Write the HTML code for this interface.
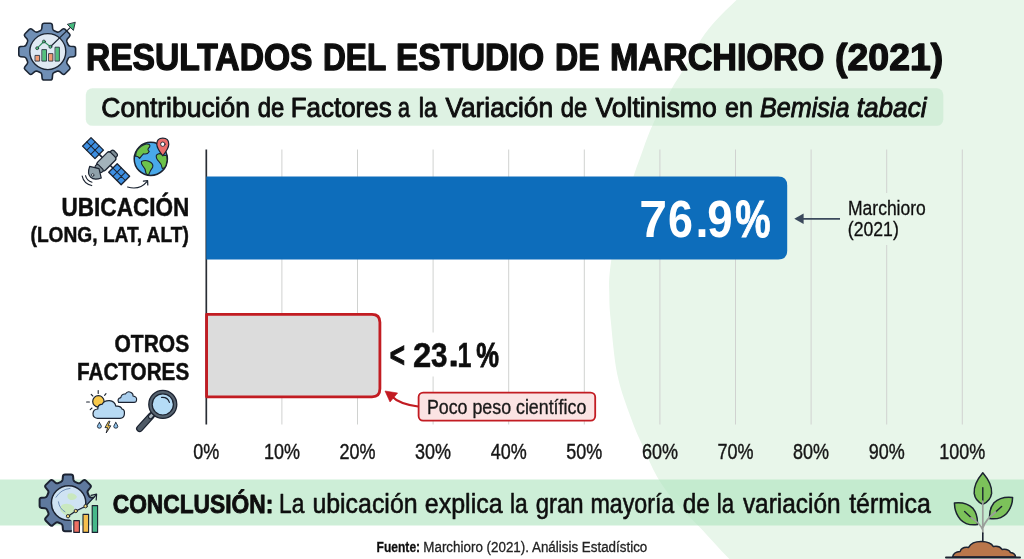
<!DOCTYPE html>
<html lang="es">
<head>
<meta charset="utf-8">
<title>Resultados del estudio de Marchioro (2021)</title>
<style>
html,body{margin:0;padding:0;background:#fff;}
body{width:1024px;height:559px;overflow:hidden;font-family:"Liberation Sans",sans-serif;}
svg{display:block;}
text{font-family:"Liberation Sans",sans-serif;}
.b{font-weight:700;}
.i{font-style:italic;}
</style>
</head>
<body>
<svg width="1024" height="559" viewBox="0 0 1024 559">
<defs>
<filter id="soft" x="0" y="0" width="100%" height="100%" filterUnits="objectBoundingBox"><feGaussianBlur stdDeviation="0.4"/></filter>
<clipPath id="g2clip"><path clip-rule="evenodd" d="M20 460 H130 V559 H20 Z M67.6 517.8 L75.8 512 L85.6 507.2 L96.8 494.8 L116 494 L116 545 L71.8 545 L71.8 521 Z"/></clipPath>
</defs>
<g id="all" filter="url(#soft)">
<!-- BACKGROUND -->
<rect x="0" y="0" width="1024" height="559" fill="#ffffff"/>
<path d="M736.5 0.0 C729.0 7.2 721.2 14.5 715.0 21.5 C708.8 28.5 704.9 33.5 699.4 42.0 C693.9 50.5 686.5 64.3 681.8 72.3 C677.1 80.3 675.9 81.2 671.0 90.0 C666.1 98.8 657.8 113.7 652.6 125.0 C647.4 136.3 643.1 149.7 640.0 158.0 C636.9 166.3 637.7 164.3 634.0 175.0 C630.3 185.7 622.0 206.2 618.0 222.0 C614.0 237.8 611.5 257.8 610.0 270.0 C608.5 282.2 609.2 286.7 609.3 295.0 C609.4 303.3 609.4 306.7 610.7 320.0 C612.1 333.3 614.0 358.7 617.4 375.0 C620.8 391.3 626.9 406.3 631.0 418.0 C635.1 429.7 637.9 435.2 642.3 445.0 C646.7 454.8 651.6 467.3 657.2 477.0 C662.8 486.7 669.0 494.7 676.0 503.0 C683.0 511.3 690.6 517.7 699.5 527.0 C708.4 536.3 719.0 548.5 729.4 559.0 L1024 559 L1024 0 Z" fill="#e8f6ea"/>

<!-- SUBTITLE PILL -->
<rect x="85.8" y="88.3" width="857.5" height="37.5" rx="6.5" fill="#bfe7c9" fill-opacity="0.52"/>

<!-- CONCLUSION BAND -->
<rect x="0" y="479.5" width="1024" height="46" fill="#afe3be" fill-opacity="0.62"/>

<!-- GRID -->
<g id="grid" stroke="#d0d2d0" stroke-width="1">
<line x1="281.9" y1="149.5" x2="281.9" y2="424.5"/>
<line x1="357.5" y1="149.5" x2="357.5" y2="424.5"/>
<line x1="433.1" y1="149.5" x2="433.1" y2="424.5"/>
<line x1="508.7" y1="149.5" x2="508.7" y2="424.5"/>
<line x1="584.3" y1="149.5" x2="584.3" y2="424.5"/>
<line x1="659.9" y1="149.5" x2="659.9" y2="424.5"/>
<line x1="735.5" y1="149.5" x2="735.5" y2="424.5"/>
<line x1="811.1" y1="149.5" x2="811.1" y2="424.5"/>
<line x1="886.7" y1="149.5" x2="886.7" y2="424.5"/>
<line x1="962.3" y1="149.5" x2="962.3" y2="424.5"/>
</g>
<line x1="206.3" y1="149.5" x2="206.3" y2="424.5" stroke="#2b2f36" stroke-width="1.7"/>

<!-- BARS -->
<path d="M206.3 176.6 H778.2 Q787.2 176.6 787.2 185.6 V250.5 Q787.2 259.5 778.2 259.5 H206.3 Z" fill="#0e6dbb"/>
<path d="M206.6 314.3 H372 Q379.9 314.3 379.9 322.3 V388.8 Q379.9 396.8 372 396.8 H206.6 Z" fill="#dcdcdc" stroke="#c21a22" stroke-width="2.8" stroke-linejoin="round"/>

<!-- TEXT -->
<g id="txt" fill="#111111">
<g id="w-title" class="b" font-size="37.8" stroke="#111" stroke-width="1.4" stroke-linejoin="round">
<text id="t0" x="85.9" y="69.9" textLength="226.6" lengthAdjust="spacingAndGlyphs">RESULTADOS</text>
<text id="t1" x="323.0" y="69.9" textLength="63.2" lengthAdjust="spacingAndGlyphs">DEL</text>
<text id="t2" x="396.1" y="69.9" textLength="148.1" lengthAdjust="spacingAndGlyphs">ESTUDIO</text>
<text id="t3" x="555.1" y="69.9" textLength="44.5" lengthAdjust="spacingAndGlyphs">DE</text>
<text id="t4" x="609.9" y="69.9" textLength="214.4" lengthAdjust="spacingAndGlyphs">MARCHIORO</text>
<text id="t5" x="835.1" y="69.9" textLength="108.1" lengthAdjust="spacingAndGlyphs">(2021)</text>
</g>
<g id="w-sub" font-size="27.4" stroke="#111" stroke-width="0.95" stroke-linejoin="round">
<text id="s0" x="101.3" y="116.8" textLength="148.7" lengthAdjust="spacingAndGlyphs">Contribución</text>
<text id="s1" x="257.7" y="116.8" textLength="26.5" lengthAdjust="spacingAndGlyphs">de</text>
<text id="s2" x="290.8" y="116.8" textLength="100.8" lengthAdjust="spacingAndGlyphs">Factores</text>
<text id="s3" x="398.1" y="116.8" textLength="11.9" lengthAdjust="spacingAndGlyphs">a</text>
<text id="s4" x="418.8" y="116.8" textLength="18.2" lengthAdjust="spacingAndGlyphs">la</text>
<text id="s5" x="445.4" y="116.8" textLength="107.7" lengthAdjust="spacingAndGlyphs">Variación</text>
<text id="s6" x="560.7" y="116.8" textLength="26.4" lengthAdjust="spacingAndGlyphs">de</text>
<text id="s7" x="595.4" y="116.8" textLength="121.4" lengthAdjust="spacingAndGlyphs">Voltinismo</text>
<text id="s8" x="725.0" y="116.8" textLength="27.8" lengthAdjust="spacingAndGlyphs">en</text>
<text id="s9" class="i" x="760.0" y="116.8" textLength="89.4" lengthAdjust="spacingAndGlyphs">Bemisia</text>
<text id="s10" class="i" x="856.8" y="116.8" textLength="69.7" lengthAdjust="spacingAndGlyphs">tabaci</text>
</g>

<text class="b" x="61.5" y="215.7" font-size="26.3" textLength="127.9" stroke="#111" stroke-width="0.5" lengthAdjust="spacingAndGlyphs">UBICACIÓN</text>
<text class="b" x="30.5" y="242.4" font-size="22.2" textLength="158.3" stroke="#111" stroke-width="0.5" lengthAdjust="spacingAndGlyphs">(LONG, LAT, ALT)</text>
<text class="b" x="114.5" y="352" font-size="24" textLength="74.7" stroke="#111" stroke-width="0.5" lengthAdjust="spacingAndGlyphs">OTROS</text>
<text class="b" x="77" y="380.1" font-size="24" textLength="112.2" stroke="#111" stroke-width="0.5" lengthAdjust="spacingAndGlyphs">FACTORES</text>

<g class="b" font-size="52" fill="#ffffff" font-weight="700" lengthAdjust="spacingAndGlyphs">
<text x="639.2" y="236.5" textLength="27.8" lengthAdjust="spacingAndGlyphs">7</text>
<text x="667.9" y="236.5" textLength="24.9" lengthAdjust="spacingAndGlyphs">6</text>
<text x="695.4" y="236.5" textLength="13" lengthAdjust="spacingAndGlyphs">.</text>
<text x="707.2" y="236.5" textLength="25.4" lengthAdjust="spacingAndGlyphs">9</text>
</g>
<text class="b" x="735.3" y="236.5" font-size="52" textLength="35.4" lengthAdjust="spacingAndGlyphs" fill="#ffffff" stroke="#ffffff" stroke-width="0.9">%</text>
<rect x="382.6" y="332.5" width="123" height="44" fill="#ffffff"/>
<g id="w-p" class="b" font-size="34.6" stroke="#111" stroke-width="0.5">
<text id="p0" stroke-width="1.0" x="389.7" y="366.5" textLength="15.2" lengthAdjust="spacingAndGlyphs">&lt;</text>
<text id="p1" x="413.1" y="366.5" textLength="18.3" lengthAdjust="spacingAndGlyphs">2</text>
<text id="p2" x="430.9" y="366.5" textLength="16.5" lengthAdjust="spacingAndGlyphs">3</text>
<rect x="450.6" y="360.4" width="6.1" height="6.1" rx="0.6" stroke="none" fill="#111"/>
<text id="p4" x="457.4" y="366.5" textLength="14.0" lengthAdjust="spacingAndGlyphs">1</text>
<text id="p5" stroke-width="0.9" x="476.3" y="366.5" textLength="22.7" lengthAdjust="spacingAndGlyphs">%</text>
</g>

<rect x="843" y="193" width="90" height="52" fill="#e8f6ea"/>
<text x="848" y="214.8" font-size="19.3" textLength="77.8" stroke="#111" stroke-width="0.3" lengthAdjust="spacingAndGlyphs">Marchioro</text>
<text x="847.8" y="235.9" font-size="19.3" textLength="51" stroke="#111" stroke-width="0.3" lengthAdjust="spacingAndGlyphs">(2021)</text>
</g>

<!-- MARCHIORO ARROW -->
<g fill="#3b4a5c" stroke="#3b4a5c">
<line x1="800" y1="218.8" x2="840" y2="218.8" stroke-width="1.8"/>
<path d="M794.3 218.8 L803.6 213.6 L803.6 224 Z" stroke="none"/>
</g>

<!-- CALLOUT -->
<rect x="418.6" y="392.6" width="176.6" height="28" rx="4.5" fill="#fbe3e3" stroke="#c21a22" stroke-width="1.8"/>
<text x="426.9" y="413.8" font-size="20" textLength="159.4" stroke="#1a1a1a" stroke-width="0.35" lengthAdjust="spacingAndGlyphs" fill="#1a1a1a">Poco peso científico</text>
<path d="M418.1 406.5 Q399 404 391.5 396" fill="none" stroke="#c21a22" stroke-width="2.2"/>
<path d="M385 391 L397.6 393 L390 402 Z" fill="#c21a22" stroke="#c21a22" stroke-width="0.6" stroke-linejoin="round"/>

<!-- AXIS LABELS -->
<g id="ax" fill="#151515" font-size="21.8" text-anchor="middle" stroke="#151515" stroke-width="0.4">
<text x="206.3" y="458.8" textLength="26" lengthAdjust="spacingAndGlyphs">0%</text>
<text x="281.9" y="458.8" textLength="36" lengthAdjust="spacingAndGlyphs">10%</text>
<text x="357.5" y="458.8" textLength="36" lengthAdjust="spacingAndGlyphs">20%</text>
<text x="433.1" y="458.8" textLength="36" lengthAdjust="spacingAndGlyphs">30%</text>
<text x="508.7" y="458.8" textLength="36" lengthAdjust="spacingAndGlyphs">40%</text>
<text x="584.3" y="458.8" textLength="36" lengthAdjust="spacingAndGlyphs">50%</text>
<text x="659.9" y="458.8" textLength="36" lengthAdjust="spacingAndGlyphs">60%</text>
<text x="735.5" y="458.8" textLength="36" lengthAdjust="spacingAndGlyphs">70%</text>
<text x="811.1" y="458.8" textLength="36" lengthAdjust="spacingAndGlyphs">80%</text>
<text x="886.7" y="458.8" textLength="36" lengthAdjust="spacingAndGlyphs">90%</text>
<text x="962.3" y="458.8" textLength="46" lengthAdjust="spacingAndGlyphs">100%</text>
</g>

<!-- CONCLUSION TEXT -->
<g id="w-con" font-size="27.2" fill="#111" stroke="#111" stroke-width="0.6" stroke-linejoin="round">
<text id="c0" class="b" font-size="26.2" stroke-width="0.9" x="112.7" y="513.4" textLength="160.6" lengthAdjust="spacingAndGlyphs">CONCLUSIÓN:</text>
<text id="c1" x="279.1" y="513.4" textLength="25.3" lengthAdjust="spacingAndGlyphs">La</text>
<text id="c2" x="312.4" y="513.4" textLength="105.2" lengthAdjust="spacingAndGlyphs">ubicación</text>
<text id="c3" x="424.8" y="513.4" textLength="77.8" lengthAdjust="spacingAndGlyphs">explica</text>
<text id="c4" x="509.9" y="513.4" textLength="17.7" lengthAdjust="spacingAndGlyphs">la</text>
<text id="c5" x="535.7" y="513.4" textLength="47.9" lengthAdjust="spacingAndGlyphs">gran</text>
<text id="c6" x="590.4" y="513.4" textLength="83.9" lengthAdjust="spacingAndGlyphs">mayoría</text>
<text id="c7" x="682.8" y="513.4" textLength="27.1" lengthAdjust="spacingAndGlyphs">de</text>
<text id="c8" x="716.7" y="513.4" textLength="17.3" lengthAdjust="spacingAndGlyphs">la</text>
<text id="c9" x="742.9" y="513.4" textLength="97.7" lengthAdjust="spacingAndGlyphs">variación</text>
<text id="c10" x="849.2" y="513.4" textLength="81.6" lengthAdjust="spacingAndGlyphs">térmica</text>
</g>

<!-- FOOTER -->
<text class="b" x="376.6" y="551.7" font-size="15.5" textLength="43.5" stroke="#111" stroke-width="0.3" lengthAdjust="spacingAndGlyphs" fill="#111">Fuente:</text>
<text x="423.3" y="551.7" font-size="15.5" textLength="224" stroke="#222" stroke-width="0.3" lengthAdjust="spacingAndGlyphs" fill="#222">Marchioro (2021). Análisis Estadístico</text>

<!-- ICONS -->
<g id="ico-gear1" transform="translate(47.2,51.6)" stroke-linejoin="round" stroke-linecap="round">
<path d="M20.9 -7.0 Q21.5 -5.6 23.1 -5.4 L26.5 -5.1 Q28.4 -4.9 28.4 -3.0 L28.4 3.0 Q28.4 4.9 26.5 5.1 L23.1 5.4 Q21.5 5.6 20.9 7.0 L19.7 9.8 Q19.1 11.3 20.1 12.5 L22.3 15.1 Q23.5 16.6 22.2 17.9 L17.9 22.2 Q16.6 23.5 15.1 22.3 L12.5 20.1 Q11.3 19.1 9.8 19.7 L7.0 20.9 Q5.6 21.5 5.4 23.1 L5.1 26.5 Q4.9 28.4 3.0 28.4 L-3.0 28.4 Q-4.9 28.4 -5.1 26.5 L-5.4 23.1 Q-5.6 21.5 -7.0 20.9 L-9.8 19.7 Q-11.3 19.1 -12.5 20.1 L-15.1 22.3 Q-16.6 23.5 -17.9 22.2 L-22.2 17.9 Q-23.5 16.6 -22.3 15.1 L-20.1 12.5 Q-19.1 11.3 -19.7 9.8 L-20.9 7.0 Q-21.5 5.6 -23.1 5.4 L-26.5 5.1 Q-28.4 4.9 -28.4 3.0 L-28.4 -3.0 Q-28.4 -4.9 -26.5 -5.1 L-23.1 -5.4 Q-21.5 -5.6 -20.9 -7.0 L-19.7 -9.8 Q-19.1 -11.3 -20.1 -12.5 L-22.3 -15.1 Q-23.5 -16.6 -22.2 -17.9 L-17.9 -22.2 Q-16.6 -23.5 -15.1 -22.3 L-12.5 -20.1 Q-11.3 -19.1 -9.8 -19.7 L-7.0 -20.9 Q-5.6 -21.5 -5.4 -23.1 L-5.1 -26.5 Q-4.9 -28.4 -3.0 -28.4 L3.0 -28.4 Q4.9 -28.4 5.1 -26.5 L5.4 -23.1 Q5.6 -21.5 7.0 -20.9 L9.8 -19.7 Q11.3 -19.1 12.5 -20.1 L15.1 -22.3 Q16.6 -23.5 17.9 -22.2 L22.2 -17.9 Q23.5 -16.6 22.3 -15.1 L20.1 -12.5 Q19.1 -11.3 19.7 -9.8 Z" fill="#6f8fb5" stroke="#1d2634" stroke-width="1.6"/>
<circle cx="0.6" cy="0" r="18" fill="#dfe9f3" stroke="#1d2634" stroke-width="1.4"/>
<g stroke="#1d2634" stroke-width="0.8">
<rect x="-11.8" y="3.8" width="4.2" height="5.7" fill="#f09a72"/>
<rect x="-5" y="-2" width="4.3" height="11.5" fill="#52c07e"/>
<rect x="1.7" y="2" width="4" height="7.5" fill="#f09a72"/>
<rect x="8.2" y="-4.4" width="4" height="13.9" fill="#52c07e"/>
</g>
<path d="M-10 -3.4 L-3.3 -10.1 L3.2 -4.8" fill="none" stroke="#2e8f5e" stroke-width="1.1"/>
<path d="M3.2 -4.8 L24 -25" fill="none" stroke="#1d2634" stroke-width="1.2"/>
<circle cx="-10" cy="-3.4" r="1.5" fill="#52c07e" stroke="#1d2634" stroke-width="0.7"/>
<circle cx="-3.3" cy="-10.1" r="1.5" fill="#52c07e" stroke="#1d2634" stroke-width="0.7"/>
<circle cx="3.2" cy="-4.8" r="1.5" fill="#52c07e" stroke="#1d2634" stroke-width="0.7"/>
<path d="M28 -29 L26.2 -21.2 L20.4 -27 Z" fill="#45b97c" stroke="#1d2634" stroke-width="0.9"/>
</g>
<g id="ico-sat" stroke="#1b2330" stroke-linejoin="round" stroke-linecap="round">
<g transform="translate(106.3,161.4) rotate(45)">
<line x1="-10" y1="0" x2="10" y2="0" stroke-width="1.6"/>
<rect x="-27.6" y="-6" width="17.6" height="12" fill="#3d8fe2" stroke-width="1.3"/>
<path d="M-21.7 -6 V6 M-15.9 -6 V6 M-27.6 0 H-10" fill="none" stroke-width="1"/>
<rect x="9.4" y="-6" width="17.6" height="12" fill="#3d8fe2" stroke-width="1.3"/>
<path d="M15.3 -6 V6 M21.1 -6 V6 M9.4 0 H27" fill="none" stroke-width="1"/>
<rect x="-4" y="-13" width="8" height="6" rx="2" fill="#7d8d96" stroke-width="1.2"/>
<rect x="-5.6" y="-9.4" width="11.2" height="18.6" rx="2.6" fill="#a3b3bb" stroke-width="1.3"/>
<rect x="-4.6" y="8" width="9.2" height="4.2" rx="1.6" fill="#7d8d96" stroke-width="1.1"/>
<g transform="translate(0,-2.2)"><path d="M0 12.5 L-8.2 17.5 Q-5 24.5 0 24.5 Q5 24.5 8.2 17.5 Z" fill="#8fa1aa" stroke-width="1.2"/>
<circle cx="0" cy="21.4" r="1.3" fill="#e9eef1" stroke-width="0.8"/>
<path d="M-4.6 27 Q0 29.8 4.6 27" fill="none" stroke-width="1.1"/>
<path d="M-6.8 29.6 Q0 34 6.8 29.6" fill="none" stroke-width="1.1"/></g>
</g>
<path d="M127.6 187 Q139.5 190.5 147 181.6" fill="none" stroke-width="1.2"/>
<path d="M143.4 181.2 L147.6 180.6 L147.8 185" fill="none" stroke-width="1.2"/>
</g>
<g id="ico-globe" stroke="#1b2330" stroke-linejoin="round" stroke-linecap="round">
<circle cx="150.8" cy="158.9" r="16.6" fill="#4aa9ea" stroke-width="1.5"/>
<path d="M137.2 150.2 Q140.5 145.5 146.2 144 Q151 143.6 149.6 147 Q146.5 149.5 149.2 151.4 Q147.5 154.8 143.4 153.8 Q141.4 155.8 139.6 158.4 Q137.4 155.6 135.6 156.4 Q135.4 153 137.2 150.2 Z" fill="#6dc24b" stroke-width="1.1"/>
<path d="M141.4 161.6 Q145.8 159.2 150.6 162.2 Q153.6 164.2 152.6 167.4 Q150.4 170.2 148.8 174.4 Q147.4 175.4 146 173.2 Q145.6 168.4 142.8 165.8 Q141 163.8 141.4 161.6 Z" fill="#6dc24b" stroke-width="1.1"/>
<path d="M156.4 155.2 Q159.4 152.4 162.6 154.8 Q164.6 156 166.6 155 Q168 160.4 166 165.6 Q164.2 169.2 162.2 168.2 Q161.6 164 159 161.6 Q155.6 158.6 156.4 155.2 Z" fill="#6dc24b" stroke-width="1.1"/>
<path d="M162.8 155.8 Q156.8 148.2 156.8 144.2 Q156.8 138.2 162.8 138.2 Q168.8 138.2 168.8 144.2 Q168.8 148.2 162.8 155.8 Z" fill="#ea6e6c" stroke-width="1.2"/>
<circle cx="162.8" cy="144.2" r="2.2" fill="#ffffff" stroke-width="0.9"/>
</g>
<g id="ico-weather" stroke="#1b2330" stroke-linejoin="round" stroke-linecap="round">
<g stroke-width="1.1" fill="none">
<path d="M98.2 390.6 V393.4 M91.2 394.4 L92.8 396 M86.6 402 H89.4 M90.2 409.6 L92 408 M106 393.6 L104.6 395.4"/>
</g>
<circle cx="98.4" cy="401.4" r="5.7" fill="#f8c94c" stroke-width="1.2"/>
<path d="M118.6 402.4 Q116.8 398.4 120.8 397.6 Q121.6 393.6 125.4 394 Q127.4 390.6 131 392.4 Q133.4 393.6 133 396 Q137 396.6 136.6 400 Q136.4 402.4 134 402.4 Z" fill="#aacfee" stroke-width="1.1"/>
<path d="M97.6 418.4 Q92.8 418 93 413.4 Q93.4 409.2 97.8 409 Q97.6 404.6 102.2 404.2 Q104 400.4 109.4 400.6 Q114.8 401 115.8 406.2 Q120.6 405.6 122.2 409.2 Q124.8 409.4 124.4 414 Q124.2 418.2 120 418.4 Z" fill="#b7d9f3" stroke-width="1.2"/>
<path d="M99.4 422.6 Q97.4 425.4 97.4 426.4 Q97.4 428.2 99.4 428.2 Q101.4 428.2 101.4 426.4 Q101.4 425.4 99.4 422.6 Z" fill="#8ec2ea" stroke-width="0.9"/>
<path d="M115.8 422.6 Q113.8 425.4 113.8 426.4 Q113.8 428.2 115.8 428.2 Q117.8 428.2 117.8 426.4 Q117.8 425.4 115.8 422.6 Z" fill="#8ec2ea" stroke-width="0.9"/>
<path d="M108.4 421.6 L105 427.6 L107.6 427.6 L106.2 433 L110.8 425.8 L108.2 425.8 L109.8 421.6 Z" fill="#f8c94c" stroke-width="0.9"/>
</g>
<g id="ico-mag" stroke="#1b2330" stroke-linejoin="round" stroke-linecap="round">
<path d="M151.4 415.6 L139.6 428.6" fill="none" stroke-width="7"/>
<path d="M151.4 415.6 L139.6 428.6" fill="none" stroke="#4f5a66" stroke-width="4.6"/>
<path d="M154.2 412.6 L150.4 416.8" fill="none" stroke-width="5"/>
<path d="M154.2 412.6 L150.4 416.8" fill="none" stroke="#aab6bf" stroke-width="2.8"/>
<circle cx="162.8" cy="404.4" r="14" fill="#57636f" stroke-width="1.3"/>
<circle cx="162.8" cy="404.4" r="10.6" fill="#b5dcf6" stroke-width="1.2"/>
<path d="M161.6 397.4 Q167.6 396.8 169.4 402.4" fill="none" stroke-width="1.2"/>
</g>
<g id="ico-gear2" stroke="#1b2330" stroke-linejoin="round" stroke-linecap="round">
<g clip-path="url(#g2clip)"><g transform="translate(68,502.8)">
<path d="M20.9 -7.0 Q21.5 -5.6 23.1 -5.4 L26.5 -5.1 Q28.4 -4.9 28.4 -3.0 L28.4 3.0 Q28.4 4.9 26.5 5.1 L23.1 5.4 Q21.5 5.6 20.9 7.0 L19.7 9.8 Q19.1 11.3 20.1 12.5 L22.3 15.1 Q23.5 16.6 22.2 17.9 L17.9 22.2 Q16.6 23.5 15.1 22.3 L12.5 20.1 Q11.3 19.1 9.8 19.7 L7.0 20.9 Q5.6 21.5 5.4 23.1 L5.1 26.5 Q4.9 28.4 3.0 28.4 L-3.0 28.4 Q-4.9 28.4 -5.1 26.5 L-5.4 23.1 Q-5.6 21.5 -7.0 20.9 L-9.8 19.7 Q-11.3 19.1 -12.5 20.1 L-15.1 22.3 Q-16.6 23.5 -17.9 22.2 L-22.2 17.9 Q-23.5 16.6 -22.3 15.1 L-20.1 12.5 Q-19.1 11.3 -19.7 9.8 L-20.9 7.0 Q-21.5 5.6 -23.1 5.4 L-26.5 5.1 Q-28.4 4.9 -28.4 3.0 L-28.4 -3.0 Q-28.4 -4.9 -26.5 -5.1 L-23.1 -5.4 Q-21.5 -5.6 -20.9 -7.0 L-19.7 -9.8 Q-19.1 -11.3 -20.1 -12.5 L-22.3 -15.1 Q-23.5 -16.6 -22.2 -17.9 L-17.9 -22.2 Q-16.6 -23.5 -15.1 -22.3 L-12.5 -20.1 Q-11.3 -19.1 -9.8 -19.7 L-7.0 -20.9 Q-5.6 -21.5 -5.4 -23.1 L-5.1 -26.5 Q-4.9 -28.4 -3.0 -28.4 L3.0 -28.4 Q4.9 -28.4 5.1 -26.5 L5.4 -23.1 Q5.6 -21.5 7.0 -20.9 L9.8 -19.7 Q11.3 -19.1 12.5 -20.1 L15.1 -22.3 Q16.6 -23.5 17.9 -22.2 L22.2 -17.9 Q23.5 -16.6 22.3 -15.1 L20.1 -12.5 Q19.1 -11.3 19.7 -9.8 Z" fill="#5e799e" stroke-width="2"/>
<circle cx="0.6" cy="0.2" r="17.2" fill="#cfe3f3" stroke-width="1.5"/>
<g stroke="none" fill="#c9e8bf">
<path d="M0 -9 Q6 -11 9 -6 Q7 -2 2 -3 Q-2 -5 0 -9 Z"/>
<path d="M-6 2 Q1 -1 6 4 Q7 10 1 14 Q-5 12 -8 7 Q-8 4 -6 2 Z"/>
</g>
<path d="M-12 -5.6 Q-7 -13.6 2 -14.4" fill="none" stroke="#6f8fb8" stroke-width="1"/>
<path d="M-9.6 -1 Q-8.6 6 -3 9" fill="none" stroke="#6f8fb8" stroke-width="1"/>
</g></g>
<rect x="73.8" y="520.6" width="5.6" height="11.8" fill="#ee6f63" stroke-width="1.1"/>
<rect x="83" y="514.4" width="5.6" height="18" fill="#f6c04d" stroke-width="1.1"/>
<rect x="92.2" y="505.6" width="5.4" height="26.8" fill="#46b88a" stroke-width="1.1"/>
<path d="M68 516.2 L75.8 511 L85.6 506.2 L96 495" fill="none" stroke-width="1.2"/>
<path d="M91 495.4 L96.6 494.2 L96.2 500" fill="none" stroke-width="1.2"/>
<circle cx="68" cy="516.2" r="1.7" fill="#f6dc7a" stroke-width="0.9"/>
<circle cx="75.8" cy="511" r="1.7" fill="#f6dc7a" stroke-width="0.9"/>
<circle cx="85.6" cy="506.2" r="1.7" fill="#f6dc7a" stroke-width="0.9"/>
</g>
<g id="ico-plant" stroke="#1b2330" stroke-linejoin="round" stroke-linecap="round">
<path d="M982.8 472.8 Q992.4 484 991.6 493.4 Q990.4 501 982.8 504.4 Q975.2 501 974.2 493.4 Q973.4 484 982.8 472.8 Z" fill="#7cc25a" stroke-width="1.5"/>
<path d="M954.4 503 Q966 501.6 973 508.4 Q978 514.4 977.4 524.6 Q966.6 526 960.4 519.4 Q954.6 512.8 954.4 503 Z" fill="#7cc25a" stroke-width="1.5"/>
<path d="M1012.6 497.4 Q1001 496 994 502.8 Q989 508.8 989.6 518.6 Q1000.4 520 1006.6 513.4 Q1012.4 506.8 1012.6 497.4 Z" fill="#7cc25a" stroke-width="1.5"/>
<path d="M982.8 487.6 V501 M964.6 511.6 L971 517.6 M1001.6 506.4 L995.6 512" fill="none" stroke-width="1.4"/>
<path d="M982.8 501 V533 M982.8 530 Q980.6 523.6 971 517.6 M982.8 528 Q985.4 519.6 995.6 512" fill="none" stroke="#9a9e9a" stroke-width="1.7"/>
<path d="M982.8 533 V541" fill="none" stroke-width="1.6"/>
<path d="M952.6 557 Q953.6 551.6 960.2 551.4 Q961.6 546.6 968.6 547.4 Q972 541.4 981.6 541.6 Q990.4 541.8 993.4 546.6 Q999.4 545.4 1002 549.4 Q1008.6 548.6 1010.4 552.4 Q1015.4 553 1015.6 557 Z" fill="#b9764b" stroke-width="1.5"/>
<path d="M946 557.6 H1020" fill="none" stroke-width="2"/>
</g>
</g>
</svg>
</body>
</html>
